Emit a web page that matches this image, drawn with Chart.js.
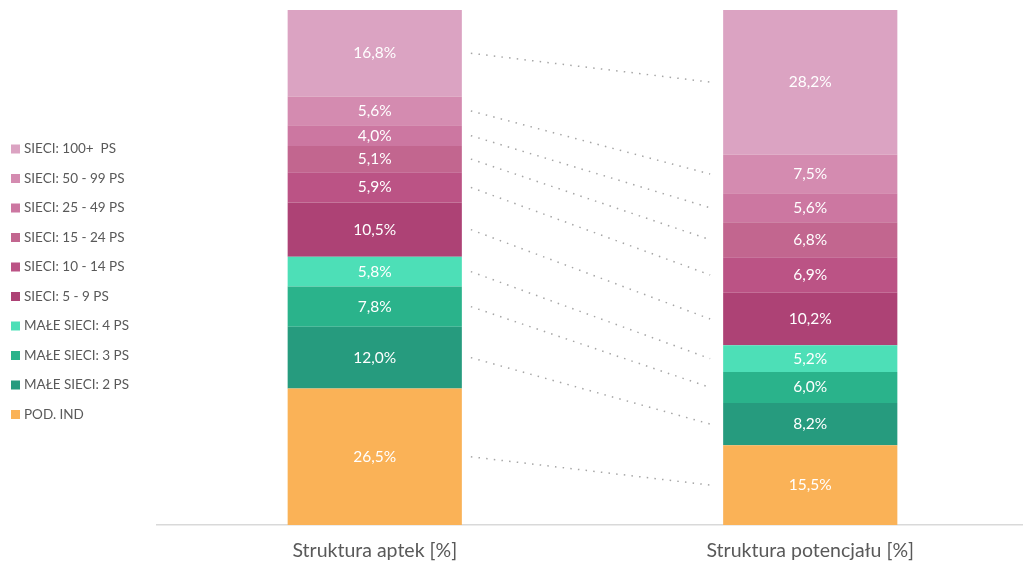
<!DOCTYPE html>
<html>
<head>
<meta charset="utf-8">
<script src="https://cdn.jsdelivr.net/npm/chart.js@4"></script>
<style>
  html, body { margin: 0; padding: 0; background: #fff; overflow: hidden; }
</style>
</head>
<body>
<canvas id="chart" width="1030" height="561"></canvas>
<script>
const categories = ["Struktura aptek [%]", "Struktura potencjału [%]"];

// od dołu stosu do góry
const seriesNames = [
  "POD. IND",
  "MAŁE SIECI: 2 PS",
  "MAŁE SIECI: 3 PS",
  "MAŁE SIECI: 4 PS",
  "SIECI: 5 - 9 PS",
  "SIECI: 10 - 14 PS",
  "SIECI: 15 - 24 PS",
  "SIECI: 25 - 49 PS",
  "SIECI: 50 - 99 PS",
  "SIECI: 100+  PS",
];
const aptekValues = [26.5, 12.0, 7.8, 5.8, 10.5, 5.9, 5.1, 4.0, 5.6, 16.8];
const potencjalValues = [15.5, 8.2, 6.0, 5.2, 10.2, 6.9, 6.8, 5.6, 7.5, 28.2];
const seriesColors = [
  "#fab257", "#269b7e", "#2ab38b", "#4ddfb7",
  "#ad4275", "#bb5385", "#c2668f", "#cc77a1", "#d48bb0", "#dba3c2",
];

const datasets = seriesNames.map((name, i) => ({
  label: name,
  data: [aptekValues[i], potencjalValues[i]],
  backgroundColor: seriesColors[i],
  borderWidth: 0,
  barPercentage: 0.4,
  categoryPercentage: 1.0,
}));

const fmt = (v) => v.toFixed(1).replace(".", ",") + "%";

// kropkowane linie łączące środki segmentów
const connectorPlugin = {
  id: "connectors",
  afterDatasetsDraw(chart) {
    const ctx = chart.ctx;
    ctx.save();
    ctx.strokeStyle = "#a6a6a6";
    ctx.lineWidth = 1.5;
    ctx.setLineDash([1.5, 6.2]);
    chart.data.datasets.forEach((ds, i) => {
      const els = chart.getDatasetMeta(i).data;
      const a = els[0], b = els[1];
      const x1 = a.x + a.width / 2 + 9;
      const x2 = b.x - b.width / 2 - 13;
      ctx.beginPath();
      ctx.moveTo(x1, (a.y + a.base) / 2);
      ctx.lineTo(x2, (b.y + b.base) / 2);
      ctx.stroke();
    });
    ctx.restore();
  },
};

const labelPlugin = {
  id: "segmentLabels",
  afterDatasetsDraw(chart) {
    const ctx = chart.ctx;
    ctx.save();
    ctx.fillStyle = "#ffffff";
    ctx.font = "15.5px Lato";
    ctx.textAlign = "center";
    ctx.textBaseline = "middle";
    chart.data.datasets.forEach((ds, i) => {
      chart.getDatasetMeta(i).data.forEach((el, j) => {
        ctx.fillText(fmt(ds.data[j]), el.x, (el.y + el.base) / 2);
      });
    });
    ctx.restore();
  },
};

// legenda po lewej, kolejność od góry stosu
const legendPlugin = {
  id: "sideLegend",
  afterDraw(chart) {
    const ctx = chart.ctx;
    const items = chart.data.datasets.slice().reverse();
    ctx.save();
    ctx.font = "13.5px Lato";
    ctx.textBaseline = "middle";
    items.forEach((ds, k) => {
      const y = 149 + k * 29.5;
      ctx.fillStyle = ds.backgroundColor;
      ctx.fillRect(11, y - 4.5, 9, 9);
      ctx.fillStyle = "#595959";
      ctx.fillText(ds.label, 24, y);
    });
    ctx.restore();
  },
};

new Chart(document.getElementById("chart"), {
  type: "bar",
  data: { labels: categories, datasets: datasets },
  options: {
    responsive: false,
    animation: false,
    layout: { padding: { left: 157, top: 10, right: 2, bottom: 0 } },
    plugins: {
      legend: { display: false },
      tooltip: { enabled: false },
    },
    scales: {
      x: {
        stacked: true,
        grid: { display: false, drawTicks: false },
        border: { display: true, color: "#d9d9d9", width: 1.5 },
        ticks: {
          color: "#595959",
          font: { family: "Lato", size: 19.5 },
          padding: 14,
        },
        afterFit(axis) { axis.height = 36; },
      },
      y: {
        stacked: true,
        display: false,
        min: 0,
        max: 100,
      },
    },
  },
  plugins: [connectorPlugin, labelPlugin, legendPlugin],
});
</script>
</body>
</html>
